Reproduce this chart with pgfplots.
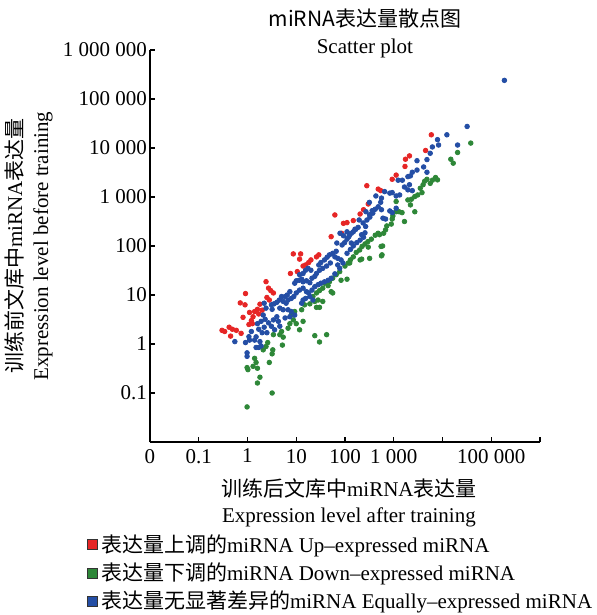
\documentclass[border=0pt]{standalone}
\usepackage{fontspec}
\setmainfont{Liberation Serif}
\newfontfamily\cjk{Noto Sans CJK SC}
\usepackage{pgfplots}
\pgfplotsset{compat=1.18}
\definecolor{upred}{RGB}{230,38,38}
\definecolor{downgreen}{RGB}{46,135,56}
\definecolor{eqblue}{RGB}{36,78,165}

\begin{document}
\begin{tikzpicture}[font=\fontsize{10.5}{13}\selectfont]
\useasboundingbox (-75pt,-86.5pt) rectangle (223pt,221pt);
\begin{axis}[
  at={(0,0)}, anchor=south west, scale only axis,
  width=195pt, height=196pt,
  xmode=log, ymode=log,
  xmin=1e-2, xmax=1e6, ymin=1e-2, ymax=1e6,
  axis x line*=bottom, axis y line*=left,
  axis line style={line width=0.6pt},
  tick align=inside, major tick length=2.5pt,
  tick style={line width=0.6pt, black},
  xminorticks=false, yminorticks=false,
  xtick={1e-2,1e-1,1,10,100,1000,1e4,1e5,1e6},
  xticklabels={0,0.1,1,10,100,1 000,,100 000,},
  ytick={1e-2,1e-1,1,10,100,1000,1e4,1e5,1e6},
  yticklabels={,0.1,1,10,100,1 000,10 000,100 000,1 000 000},
  yticklabel style={xshift=2pt},
  title={{\cjk miRNA表达量散点图}\\Scatter plot},
  title style={at={(axis description cs:0.551,1.0115)}, anchor=center, align=center,
    font=\fontsize{10.5}{13.25}\selectfont},
  xlabel={{\cjk 训练后文库中}miRNA{\cjk 表达量}\\Expression level after training},
  xlabel style={at={(axis description cs:0.51,-0.154)}, anchor=center, align=center},
  ylabel={{\cjk 训练前文库中}miRNA{\cjk 表达量}\\Expression level before training},
  ylabel style={at={(axis description cs:-0.3115,0.5)}, anchor=center, align=center},
  legend style={draw=none, fill=none, inner sep=0pt,
    at={(axis description cs:-0.162,-0.227)}, anchor=north west,
    row sep=0.75pt, nodes={inner sep=1.5pt}},
  legend cell align=left,
]
\addplot[only marks, mark=*, mark size=1.15pt, color=upred, mark options={draw=upred, fill=upred},
  legend image code/.code={\draw[black!80, line width=0.4pt, fill=upred] (0pt,-2.5pt) rectangle (5pt,2.5pt);}]
coordinates {
(0.30,1.9) (0.34,1.8) (0.42,2.2) (0.49,2.0) (0.59,1.9) (0.45,1.45) (0.74,1.65)
(0.81,3.5) (0.91,10.7) (0.71,6.9) (0.89,6.3) (1.1,4.4) (1.3,3.6) (1.2,3.0)
(1.07,2.5) (1.26,2.6) (1.4,4.6) (1.6,5.1) (1.8,6.5) (1.7,4.1) (2.0,4.9)
(2.4,18.7) (2.7,13.8) (2.5,8.9) (2.8,7.9)
(8.7,69) (12.3,69) (11.7,54) (13.8,39) (15.5,41) (18,46) (20,52) (26,60)
(29,66) (7.6,27.5) (10.5,30) (3,12.3) (3.4,11)
(52,155) (62,430) (93,290) (110,300) (148,330) (204,450) (240,550) (300,720) (85,182)
(5900,18600) (4500,8900) (2100,6900) (1740,5900) (1700,4200) (1120,2800)
(930,2300) (280,1700) (480,1450) (540,1350)
};
\addlegendentry{{\cjk 表达量上调的}miRNA Up--expressed miRNA}
\addplot[only marks, mark=*, mark size=1.15pt, color=downgreen, mark options={draw=downgreen, fill=downgreen},
  legend image code/.code={\draw[black!80, line width=0.4pt, fill=downgreen] (0pt,-2.5pt) rectangle (5pt,2.5pt);}]
coordinates {
(0.98,0.33) (1.02,0.30) (1.3,0.35) (1.5,0.42) (1.6,0.32) (1.4,0.51) (1.8,0.21)
(1.6,0.16) (0.98,0.052) (2.1,0.76) (2.4,0.89) (2.6,1.07) (3.2,0.10) (2.8,0.42)
(3.2,0.63) (3.3,0.76) (5.2,0.95)
(78,30) (66,26) (56,22) (48,18.6) (45,15.5) (38,17.4) (35,13.8) (30,12.3)
(26,11) (22,9.3) (24,7.4) (28,7.9) (35,7.4) (52,11.7) (56,11) (83,20)
(9.3,4.6) (7.9,3.9) (8.7,3.1) (7.4,2.6) (10,2.6) (13.8,2.9) (11.7,1.95)
(6.8,2.1) (5,1.8) (4.6,1.55) (5.4,1.38) (3.4,1.55) (24,1.48) (42,1.55)
(30,5.6) (26,5.6) (19,6.6) (14.8,6.3) (12.9,5) (30,1.1)
(100,39) (117,45) (129,52) (148,60) (170,74) (200,83) (224,98) (257,110)
(295,123) (347,138) (417,166) (479,182) (110,21) (204,52)
(550,98) (575,66) (320,56) (220,54) (125,45) (510,170) (300,95)
(20400,8100) (14800,5900) (16600,4900) (7900,2240) (7200,2500) (6200,2200)
(5600,1900) (4800,2300) (4300,2100) (4000,1780) (3500,1510) (3800,1230)
(3100,1100) (2700,1020) (2300,900) (1950,870) (2200,690) (2700,500)
(1660,316) (1290,500) (1120,500) (960,410) (890,280) (720,257) (680,214)
(620,182) (590,100) (560,63) (930,355) (1120,810) (1480,480)
(38000,12600)
};
\addlegendentry{{\cjk 表达量下调的}miRNA Down--expressed miRNA}
\addplot[only marks, mark=*, mark size=1.15pt, color=eqblue, mark options={draw=eqblue, fill=eqblue},
  legend image code/.code={\draw[black!80, line width=0.4pt, fill=eqblue] (0pt,-2.5pt) rectangle (5pt,2.5pt);}]
coordinates {
(0.55,1.12) (0.98,0.66) (0.98,0.56) (0.91,1.07) (1.2,1.8) (1.4,1.2) (1.5,1.4)
(1.7,2.0) (1.8,1.12) (1.5,0.85) (1.7,0.85) (2.0,1.7) (1.6,2.6) (1.9,2.9)
(2.3,3.2) (2.1,3.9) (2.7,2.7) (2.4,5.4) (1.1,1.2) (1.07,1.41) (2.2,2.2)
(2.5,1.7) (1.9,0.91) (2.2,6.8)
(9.3,17.4) (10,19.5) (11.5,20) (12.9,21) (13.8,18.6) (16.2,19.5) (19,17.8)
(21,22) (24,24) (26,27.5) (30,32) (29,41) (32,46) (38,52) (43,59) (48,66)
(56,71) (66,78) (62,60) (71,56) (50,45) (42,39) (35,35) (17.4,35) (15.5,32)
(20,32) (13.8,27.5) (11.7,26) (7.4,11.7) (6.5,10) (5.9,9.3) (5,9.3) (4.5,7.9)
(4,7.1) (3.5,6.6) (3.1,6.3) (5.4,7.4) (6.2,6.8) (6.8,7.9) (7.9,8.5) (8.9,9.3)
(10,11) (11.7,12.6) (13.8,13.8) (16.2,11.7) (18,11) (21,12.6) (24,14.8)
(28,16.2) (32,17.4) (38,18.6) (45,20) (52,22) (62,27) (78,35) (91,45) (83,52)
(71,41) (4.6,5.4) (5.4,5) (6.8,5) (7.9,4.6) (4,3.6) (3.4,3.1) (4.3,2.9)
(3.1,2.3) (3.6,1.95) (4.6,2.3) (5.9,3.4) (7.4,3.6) (9.3,3.9) (12.9,6.8)
(13.8,7.9) (15.5,8.5) (19,9.3) (22,7.9) (3.2,5.1)
(87,105) (98,117) (110,138) (120,155) (135,182) (148,195) (166,219) (186,240)
(219,170) (257,186) (282,339) (324,389) (372,468) (417,562) (479,631)
(269,501) (110,71) (129,85) (148,100) (174,117) (204,132) (240,151) (79,182)
(93,162) (68,115) (316,776) (110,195) (135,115)
(360,525) (320,435) (235,295) (265,250) (195,340) (160,220) (125,170)
(12300,18600) (8300,11500) (7900,14800) (6200,10500) (5600,7800) (4800,5800)
(4100,4100) (4800,3200) (3000,5500) (2400,3200) (2200,2700) (1950,2600)
(1500,2200) (1230,2200) (2100,1780) (1950,1400) (2400,1350) (1660,1600)
(1320,1100) (1120,1050) (930,1230) (830,1200) (650,1290) (560,950) (830,520)
(930,480) (1120,590) (600,370) (680,355) (560,550) (540,780) (20400,11500)
(3000,3550) (430,1050)
(186000,240000) (32000,27500)
};
\addlegendentry{{\cjk 表达量无显著差异的}miRNA Equally--expressed miRNA}
\end{axis}
\end{tikzpicture}
\end{document}
